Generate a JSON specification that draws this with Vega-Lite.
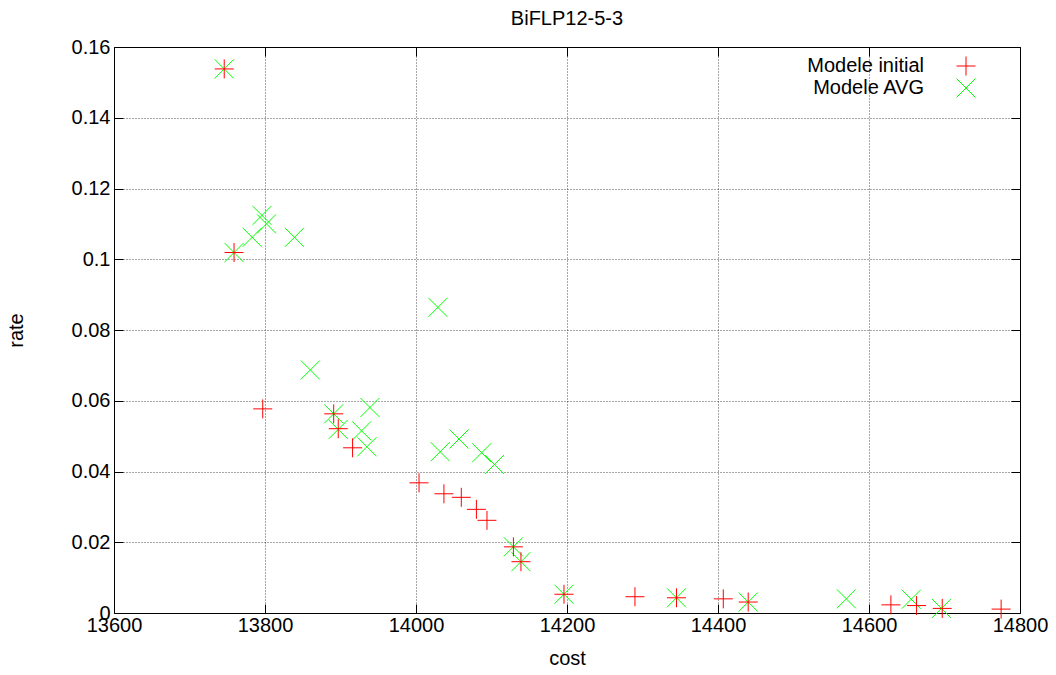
{
  "$schema": "https://vega.github.io/schema/vega-lite/v6.json",
  "width": 906,
  "height": 566,
  "autosize": {"type": "none"},
  "padding": {"left": 114, "top": 47, "right": 36, "bottom": 62},
  "background": "white",
  "title": {"text": "BiFLP12-5-3", "fontSize": 20, "fontWeight": "normal", "font": "Liberation Sans", "color": "black", "offset": 8, "anchor": "middle"},
  "config": {
    "view": {"stroke": "black", "strokeWidth": 1},
    "axis": {"labelFont": "Liberation Sans", "titleFont": "Liberation Sans", "labelFontSize": 20, "titleFontSize": 20, "titleFontWeight": "normal", "labelColor": "black", "titleColor": "black", "tickColor": "black", "domain": false, "labelFlush": false, "labelOverlap": false}
  },
  "data": {"values": [
    {"model": "Modele AVG", "cost": 13746, "rate": 0.1538},
    {"model": "Modele AVG", "cost": 13759, "rate": 0.1019},
    {"model": "Modele AVG", "cost": 13783, "rate": 0.1062},
    {"model": "Modele AVG", "cost": 13796, "rate": 0.1124},
    {"model": "Modele AVG", "cost": 13802, "rate": 0.1100},
    {"model": "Modele AVG", "cost": 13839, "rate": 0.1062},
    {"model": "Modele AVG", "cost": 14029, "rate": 0.0864},
    {"model": "Modele AVG", "cost": 13860, "rate": 0.0687},
    {"model": "Modele AVG", "cost": 13891, "rate": 0.0563},
    {"model": "Modele AVG", "cost": 13897, "rate": 0.0519},
    {"model": "Modele AVG", "cost": 13939, "rate": 0.0581},
    {"model": "Modele AVG", "cost": 13928, "rate": 0.0515},
    {"model": "Modele AVG", "cost": 13935, "rate": 0.0470},
    {"model": "Modele AVG", "cost": 14032, "rate": 0.0456},
    {"model": "Modele AVG", "cost": 14057, "rate": 0.0492},
    {"model": "Modele AVG", "cost": 14087, "rate": 0.0453},
    {"model": "Modele AVG", "cost": 14104, "rate": 0.0420},
    {"model": "Modele AVG", "cost": 14129, "rate": 0.0187},
    {"model": "Modele AVG", "cost": 14139, "rate": 0.0145},
    {"model": "Modele AVG", "cost": 14196, "rate": 0.0053},
    {"model": "Modele AVG", "cost": 14345, "rate": 0.0043},
    {"model": "Modele AVG", "cost": 14440, "rate": 0.0031},
    {"model": "Modele AVG", "cost": 14570, "rate": 0.0040},
    {"model": "Modele AVG", "cost": 14656, "rate": 0.0039},
    {"model": "Modele AVG", "cost": 14696, "rate": 0.0013},
    {"model": "Modele initial", "cost": 13746, "rate": 0.1538},
    {"model": "Modele initial", "cost": 13759, "rate": 0.1019},
    {"model": "Modele initial", "cost": 13797, "rate": 0.0577},
    {"model": "Modele initial", "cost": 13891, "rate": 0.0563},
    {"model": "Modele initial", "cost": 13897, "rate": 0.0521},
    {"model": "Modele initial", "cost": 13916, "rate": 0.0467},
    {"model": "Modele initial", "cost": 14004, "rate": 0.0368},
    {"model": "Modele initial", "cost": 14037, "rate": 0.0337},
    {"model": "Modele initial", "cost": 14060, "rate": 0.0327},
    {"model": "Modele initial", "cost": 14080, "rate": 0.0293},
    {"model": "Modele initial", "cost": 14094, "rate": 0.0262},
    {"model": "Modele initial", "cost": 14129, "rate": 0.0187},
    {"model": "Modele initial", "cost": 14139, "rate": 0.0145},
    {"model": "Modele initial", "cost": 14196, "rate": 0.0053},
    {"model": "Modele initial", "cost": 14290, "rate": 0.0046},
    {"model": "Modele initial", "cost": 14345, "rate": 0.0043},
    {"model": "Modele initial", "cost": 14407, "rate": 0.0040},
    {"model": "Modele initial", "cost": 14440, "rate": 0.0031},
    {"model": "Modele initial", "cost": 14629, "rate": 0.0023},
    {"model": "Modele initial", "cost": 14663, "rate": 0.0021},
    {"model": "Modele initial", "cost": 14697, "rate": 0.0013},
    {"model": "Modele initial", "cost": 14775, "rate": 0.0011}
  ]},
  "resolve": {"axis": {"x": "independent", "y": "independent"}},
  "layer": [
    {
      "mark": {"type": "point", "filled": false, "strokeWidth": 1, "opacity": 1, "size": 361},
      "encoding": {
        "x": {"field": "cost", "type": "quantitative", "scale": {"domain": [13600, 14800], "nice": false, "zero": false},
              "axis": {"orient": "bottom", "values": [13600, 13800, 14000, 14200, 14400, 14600, 14800], "format": "d", "title": "cost", "tickSize": -9, "labelPadding": 11, "titlePadding": 13, "grid": true, "gridColor": "black", "gridDash": [1, 2], "gridOpacity": 0.7}},
        "y": {"field": "rate", "type": "quantitative", "scale": {"domain": [0, 0.16], "nice": false},
              "axis": {"orient": "left", "values": [0, 0.02, 0.04, 0.06, 0.08, 0.1, 0.12, 0.14, 0.16], "format": "~g", "title": "rate", "tickSize": -9, "labelPadding": 13, "titlePadding": 45, "grid": true, "gridColor": "black", "gridDash": [1, 2], "gridOpacity": 0.7}},
        "color": {"field": "model", "type": "nominal", "scale": {"domain": ["Modele initial", "Modele AVG"], "range": ["#ff0000", "#00ff00"]},
                  "legend": {"title": null, "orient": "none", "legendX": 842, "legendY": 9, "labelAlign": "right", "labelOffset": -52, "labelFont": "Liberation Sans", "labelFontSize": 20, "labelColor": "black", "rowPadding": -8, "symbolSize": 361, "symbolStrokeWidth": 1, "labelLimit": 400}},
        "shape": {"field": "model", "type": "nominal", "scale": {"domain": ["Modele initial", "Modele AVG"], "range": ["M-1,0L1,0M0,-1L0,1", "M-1,-1L1,1M-1,1L1,-1"]}},
        "order": {"field": "model", "type": "nominal", "sort": "ascending"}
      }
    },
    {
      "mark": {"type": "point", "opacity": 0},
      "encoding": {
        "x": {"field": "cost", "type": "quantitative", "scale": {"domain": [13600, 14800], "nice": false, "zero": false},
              "axis": {"orient": "top", "values": [13600, 13800, 14000, 14200, 14400, 14600, 14800], "labels": false, "title": null, "tickSize": -9, "grid": false}},
        "y": {"field": "rate", "type": "quantitative", "scale": {"domain": [0, 0.16], "nice": false},
              "axis": {"orient": "right", "values": [0, 0.02, 0.04, 0.06, 0.08, 0.1, 0.12, 0.14, 0.16], "labels": false, "title": null, "tickSize": -9, "grid": false}}
      }
    }
  ]
}
